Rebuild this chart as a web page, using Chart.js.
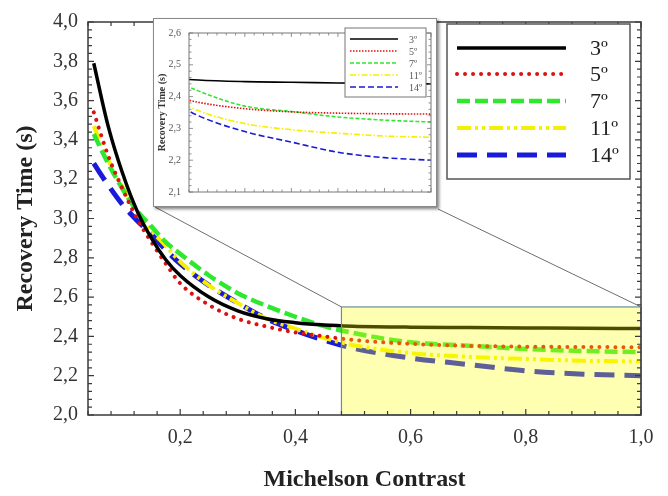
<!DOCTYPE html>
<html><head><meta charset="utf-8">
<script src="https://cdn.jsdelivr.net/npm/chart.js@4/dist/chart.umd.min.js"></script>
<style>
html,body{margin:0;padding:0;background:#fff;}
#wrap{position:relative;width:668px;height:496px;overflow:hidden;}
#main{position:absolute;left:0;top:0;}
#insetBox{position:absolute;left:153px;top:18px;width:282px;height:187px;border:1px solid #8a8a8a;box-shadow:2px 2px 3px rgba(0,0,0,0.5);background:#fff;}
#inset{position:absolute;left:0;top:0;}
</style></head><body>
<div id="wrap">
<canvas id="main" width="668" height="496" style="width:668px;height:496px"></canvas>
<div id="insetBox"><canvas id="inset" width="282" height="187" style="width:282px;height:187px"></canvas></div>
</div>
<script>
// ---- data ----
const contrast = [0.05,0.075,0.1,0.125,0.15,0.175,0.2,0.25,0.3,0.35,0.4,0.45,0.5,0.6,0.7,0.8,0.9,1.0];
const rt3  = [3.79,3.47,3.23,3.04,2.90,2.79,2.71,2.60,2.53,2.49,2.47,2.458,2.452,2.447,2.445,2.443,2.441,2.44];
const rt5  = [3.54,3.32,3.15,3.00,2.88,2.77,2.67,2.56,2.49,2.45,2.42,2.40,2.382,2.362,2.352,2.348,2.346,2.345];
const rt7  = [3.43,3.28,3.15,3.04,2.96,2.88,2.82,2.71,2.62,2.555,2.50,2.452,2.418,2.37,2.353,2.336,2.326,2.32];
const rt11 = [3.47,3.30,3.16,3.04,2.94,2.86,2.78,2.66,2.57,2.49,2.44,2.392,2.356,2.315,2.296,2.285,2.276,2.272];
const rt14 = [3.28,3.17,3.07,2.99,2.92,2.84,2.77,2.66,2.57,2.49,2.43,2.38,2.34,2.29,2.257,2.225,2.208,2.20];
const seriesLabels = ['3\u00BA','5\u00BA','7\u00BA','11\u00BA','14\u00BA'];
const xTicks = [0.2,0.4,0.6,0.8,1.0];
const yTicks = [2.0,2.2,2.4,2.6,2.8,3.0,3.2,3.4,3.6,3.8,4.0];
const insetYTicks = [2.1,2.2,2.3,2.4,2.5,2.6];
const zoomX = [0.48,1.0];
const zoomY = [2.0,2.55];

// ---- styles ----
const allSeries = [rt3,rt5,rt7,rt11,rt14];
const colors = ['#000000','#dd1111','#2ee82e','#f6f000','#1a1ad8'];
const mainWidths = [3.5,4,4.5,4,5];
const mainDash = [[],[0.01,8],[13,5],[14,4,3,4,3,4],[20,10]];
const mainCaps = ['butt','round','butt','butt','butt'];
const insetDash = [[],[1.5,1.5],[4,2],[6,2,1.5,2],[6,3]];
const serif = "'Liberation Serif','Times New Roman',serif";
const fmt = v => Number(v).toFixed(1).replace('.', ',');

function pts(arr){ return contrast.map((c,i)=>({x:c,y:arr[i]})); }

function ticksPlugin(cfg){
  return {
    id:'frameTicks'+cfg.name,
    afterDatasetsDraw(chart){
      const {ctx, chartArea:a, scales:{x,y}} = chart;
      ctx.save();
      if (cfg.box){
        const l=x.getPixelForValue(cfg.box[0]), r=x.getPixelForValue(cfg.box[1]);
        const t=y.getPixelForValue(cfg.box[3]), b=y.getPixelForValue(cfg.box[2]);
        ctx.fillStyle='rgba(255,255,0,0.3)';
        ctx.fillRect(l,t,r-l,b-t);
        ctx.strokeStyle='#6f8c9c'; ctx.lineWidth=1.2;
        ctx.strokeRect(l,t,r-l,b-t);
      }
      ctx.strokeStyle=cfg.color; ctx.lineWidth=cfg.lw;
      ctx.strokeRect(a.left,a.top,a.right-a.left,a.bottom-a.top);
      ctx.lineWidth=cfg.tw;
      ctx.beginPath();
      for(let i=0;;i++){
        const v=cfg.x0+i*cfg.xs; if(v>x.max+1e-9)break; if(v<x.min-1e-9)continue;
        const px=x.getPixelForValue(v);
        const q=v/cfg.xm, major=Math.abs(q-Math.round(q))<1e-6;
        const L=major?cfg.major:cfg.minor;
        ctx.moveTo(px,a.bottom); ctx.lineTo(px,a.bottom-L);
        ctx.moveTo(px,a.top); ctx.lineTo(px,a.top+L);
      }
      for(let i=0;;i++){
        const v=cfg.y0+i*cfg.ys; if(v>y.max+1e-9)break; if(v<y.min-1e-9)continue;
        const py=y.getPixelForValue(v);
        const q=v/cfg.ym, major=Math.abs(q-Math.round(q))<1e-6;
        const L=major?cfg.major:cfg.minor;
        ctx.moveTo(a.left,py); ctx.lineTo(a.left+L,py);
        ctx.moveTo(a.right,py); ctx.lineTo(a.right-L,py);
      }
      ctx.stroke();
      ctx.restore();
    }
  };
}

function drawLegend(ctx, chart, L){
  ctx.save();
  ctx.fillStyle='#fff'; ctx.fillRect(L.x0,L.y0,L.x1-L.x0,L.y1-L.y0);
  ctx.strokeStyle=L.border; ctx.lineWidth=L.bw;
  ctx.strokeRect(L.x0,L.y0,L.x1-L.x0,L.y1-L.y0);
  chart.data.datasets.forEach((ds,i)=>{
    const yy=L.rows[i];
    ctx.beginPath();
    ctx.strokeStyle=ds.borderColor; ctx.lineWidth=ds.borderWidth;
    ctx.setLineDash(ds.borderDash||[]); ctx.lineCap=ds.borderCapStyle||'butt';
    ctx.moveTo(L.lx0,yy); ctx.lineTo(L.lx1,yy); ctx.stroke();
    ctx.setLineDash([]); ctx.lineCap='butt';
    ctx.fillStyle=L.textColor; ctx.font=L.font; ctx.textBaseline='middle'; ctx.textAlign='left';
    ctx.fillText(ds.label,L.tx,yy+1);
  });
  ctx.restore();
}

const mainExtra = {
  id:'mainExtra',
  afterDraw(chart){
    const {ctx, scales:{x,y}} = chart;
    ctx.save();
    ctx.strokeStyle='#6e6e6e'; ctx.lineWidth=1;
    ctx.beginPath();
    ctx.moveTo(155,207); ctx.lineTo(x.getPixelForValue(zoomX[0]), y.getPixelForValue(zoomY[1]));
    ctx.moveTo(438,209); ctx.lineTo(x.getPixelForValue(zoomX[1]), y.getPixelForValue(zoomY[1]));
    ctx.stroke();
    ctx.restore();
    drawLegend(ctx, chart, {x0:447,y0:24,x1:630,y1:179,border:'#555',bw:1.5,
      rows:[48,74,101,128,155], lx0:457, lx1:566, tx:590, textColor:'#222', font:'22px '+serif});
  }
};

new Chart(document.getElementById('main'), {
  type:'line',
  data:{datasets: allSeries.map((arr,i)=>({
    label:seriesLabels[i], data:pts(arr), borderColor:colors[i], borderWidth:mainWidths[i],
    borderDash:mainDash[i], borderCapStyle:mainCaps[i], pointRadius:0, fill:false,
    cubicInterpolationMode:'monotone'
  }))},
  options:{
    responsive:false, animation:false, events:[],
    layout:{padding:{left:0,right:27,top:16,bottom:0}},
    plugins:{legend:{display:false}, tooltip:{enabled:false}},
    scales:{
      x:{type:'linear', min:0.04, max:1.0,
        afterBuildTicks:s=>{s.ticks=xTicks.map(v=>({value:v}));},
        afterFit:s=>{s.height=81;},
        grid:{display:false, drawTicks:false}, border:{display:false},
        ticks:{padding:11, font:{family:serif,size:20}, color:'#333', callback:v=>fmt(v), maxRotation:0, autoSkip:false},
        title:{display:true, text:'Michelson Contrast', font:{family:serif,size:24,weight:'bold'}, color:'#222', padding:{top:0,bottom:2}}
      },
      y:{type:'linear', min:2.0, max:4.0,
        afterBuildTicks:s=>{s.ticks=yTicks.map(v=>({value:v}));},
        afterFit:s=>{s.width=88;},
        grid:{display:false, drawTicks:false}, border:{display:false},
        ticks:{padding:10, font:{family:serif,size:20}, color:'#333', callback:v=>fmt(v), autoSkip:false},
        title:{display:true, text:'Recovery Time (s)', font:{family:serif,size:24,weight:'bold'}, color:'#222', padding:{top:11,bottom:0}}
      }
    }
  },
  plugins:[ticksPlugin({name:'m', box:[zoomX[0],zoomX[1],zoomY[0],zoomY[1]], color:'#3a3a3a', lw:1.5, tw:1.2,
    x0:0.04, xs:0.04, xm:0.2, y0:2.0, ys:0.04, ym:0.2, major:6, minor:4}), mainExtra]
});

const insetExtra = {
  id:'insetExtra',
  afterDraw(chart){
    drawLegend(chart.ctx, chart, {x0:191,y0:9,x1:272,y1:78,border:'#777',bw:1,
      rows:[20,32,44,56,68], lx0:196, lx1:244, tx:255, textColor:'#555', font:'10px '+serif});
  }
};

new Chart(document.getElementById('inset'), {
  type:'line',
  data:{datasets: allSeries.map((arr,i)=>({
    label:seriesLabels[i], data:pts(arr), borderColor:colors[i], borderWidth:1.6,
    borderDash:insetDash[i], pointRadius:0, fill:false, cubicInterpolationMode:'monotone'
  }))},
  options:{
    responsive:false, animation:false, events:[],
    layout:{padding:{left:0,right:5,top:6,bottom:0}},
    plugins:{legend:{display:false}, tooltip:{enabled:false}},
    scales:{
      x:{type:'linear', min:zoomX[0], max:zoomX[1],
        afterFit:s=>{s.height=5;},
        grid:{display:false, drawTicks:false}, border:{display:false},
        ticks:{display:false}
      },
      y:{type:'linear', min:2.1, max:2.6,
        afterBuildTicks:s=>{s.ticks=insetYTicks.map(v=>({value:v}));},
        afterFit:s=>{s.width=35;},
        grid:{display:false, drawTicks:false}, border:{display:false},
        ticks:{padding:8, font:{family:serif,size:10}, color:'#555', callback:v=>fmt(v), autoSkip:false},
        title:{display:true, text:'Recovery Time (s)', font:{family:serif,size:10,weight:'bold'}, color:'#333', padding:{top:2,bottom:0}}
      }
    }
  },
  plugins:[ticksPlugin({name:'i', color:'#777', lw:1, tw:0.8,
    x0:0.48, xs:0.02, xm:0.1, y0:2.1, ys:0.02, ym:0.1, major:4, minor:2.5}), insetExtra]
});
</script>
</body></html>
